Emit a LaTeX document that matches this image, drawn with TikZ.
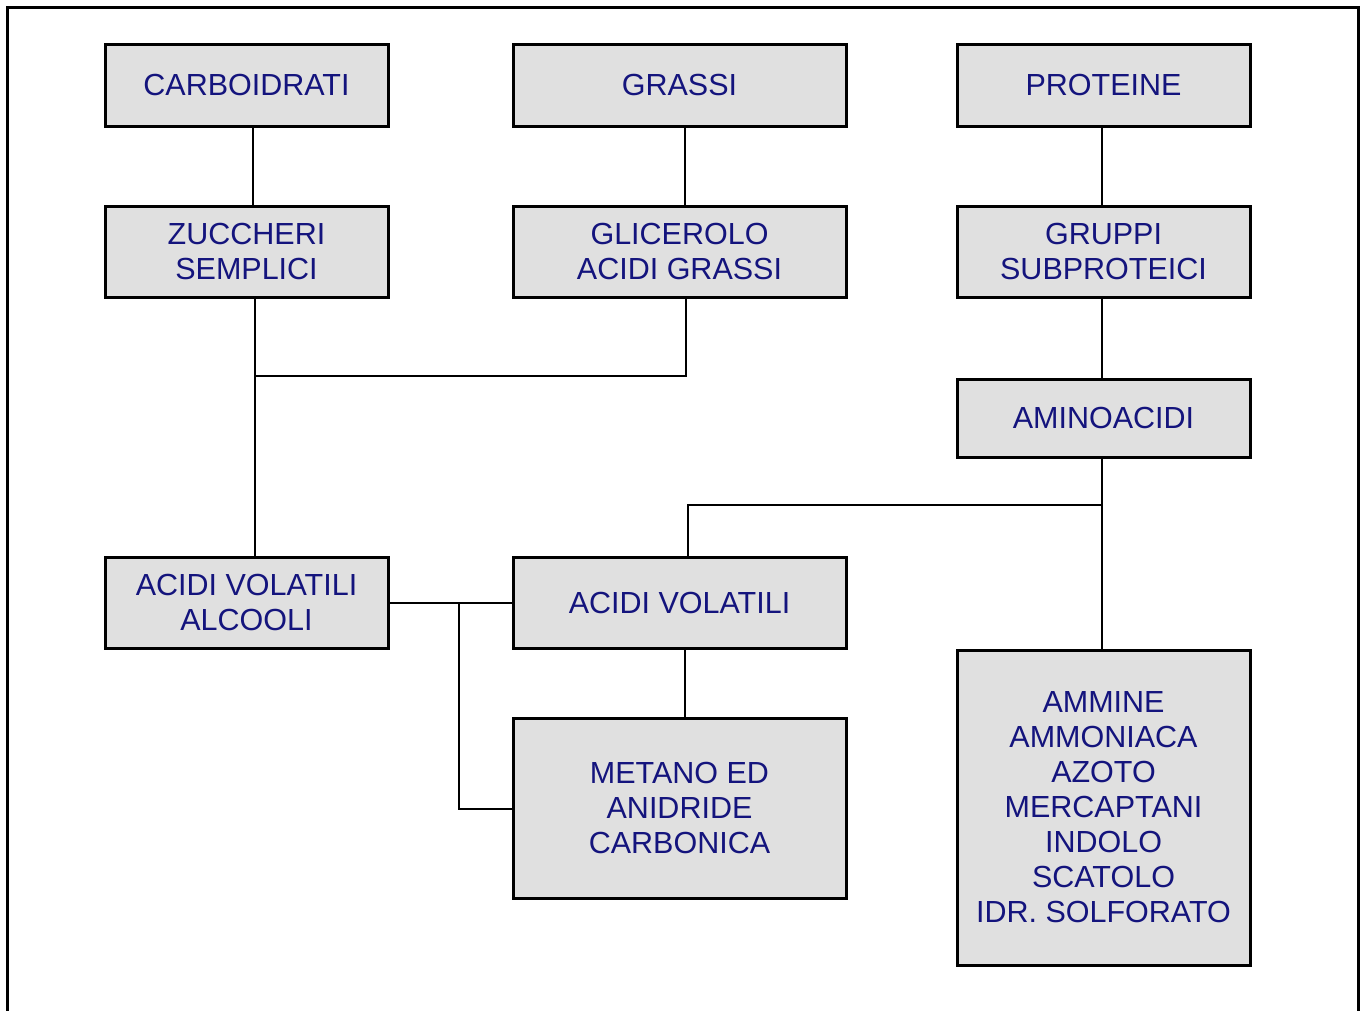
\documentclass[tikz,border=0pt]{standalone}
\usepackage{fontspec}
\setmainfont{Liberation Sans}
\definecolor{txtblue}{RGB}{20,20,125}
\definecolor{boxgray}{RGB}{224,224,224}
\begin{document}
\begin{tikzpicture}[x=1pt,y=-1pt,
  box/.style={draw=black, line width=3pt, fill=boxgray, inner sep=0pt, align=center,
    text=txtblue, font=\fontsize{30.5}{35}\selectfont},
  conn/.style={line width=2pt}]
\useasboundingbox (0,0) rectangle (1362,1010);
\draw[line width=3pt] (7,1012) -- (7,7) -- (1358,7) -- (1358,1012);
% boxes
\node[box, minimum width=283, minimum height=82] (carb) at (246.5,85) {CARBOIDRATI};
\node[box, minimum width=333, minimum height=82] (grassi) at (679.5,85) {GRASSI};
\node[box, minimum width=293, minimum height=82] (prot) at (1103.5,85) {PROTEINE};
\node[box, minimum width=283, minimum height=91] (zuc) at (246.5,251.5) {ZUCCHERI\\SEMPLICI};
\node[box, minimum width=333, minimum height=91] (glic) at (679.5,251.5) {GLICEROLO\\ACIDI GRASSI};
\node[box, minimum width=293, minimum height=91] (grup) at (1103.5,251.5) {GRUPPI\\SUBPROTEICI};
\node[box, minimum width=293, minimum height=78] (amino) at (1103.5,418) {AMINOACIDI};
\node[box, minimum width=283, minimum height=91] (avalc) at (246.5,602.5) {ACIDI VOLATILI\\ALCOOLI};
\node[box, minimum width=333, minimum height=91] (av) at (679.5,602.5) {ACIDI VOLATILI};
\node[box, minimum width=333, minimum height=180] (met) at (679.5,808) {METANO ED\\ANIDRIDE\\CARBONICA};
\node[box, minimum width=293, minimum height=315] (amm) at (1103.5,807.5) {AMMINE\\AMMONIACA\\AZOTO\\MERCAPTANI\\INDOLO\\SCATOLO\\IDR. SOLFORATO};
% junction coordinates
\coordinate (j1) at (255,376);
\coordinate (j2) at (1102,505);
\coordinate (j3) at (459,603);
% connectors
\draw[conn] ([xshift=6.5pt]carb.south) -- ([xshift=6.5pt]zuc.north);
\draw[conn] ([xshift=5.5pt]grassi.south) -- ([xshift=5.5pt]glic.north);
\draw[conn] ([xshift=-1.5pt]prot.south) -- ([xshift=-1.5pt]grup.north);
\draw[conn] ([xshift=-1.5pt]grup.south) -- ([xshift=-1.5pt]amino.north);
\draw[conn] ([xshift=8.5pt]zuc.south) -- (j1) -| ([xshift=6.5pt]glic.south);
\draw[conn] (j1) -- ([xshift=8.5pt]avalc.north);
\draw[conn] ([xshift=-1.5pt]amino.south) -- (j2) -| ([xshift=8.5pt]av.north);
\draw[conn] (j2) -- ([xshift=-1.5pt]amm.north);
\draw[conn] (avalc.east) -- (av.west);
\draw[conn] (j3) |- ([yshift=-1pt]met.west);
\draw[conn] ([xshift=5.5pt]av.south) -- ([xshift=5.5pt]met.north);
\end{tikzpicture}
\end{document}
